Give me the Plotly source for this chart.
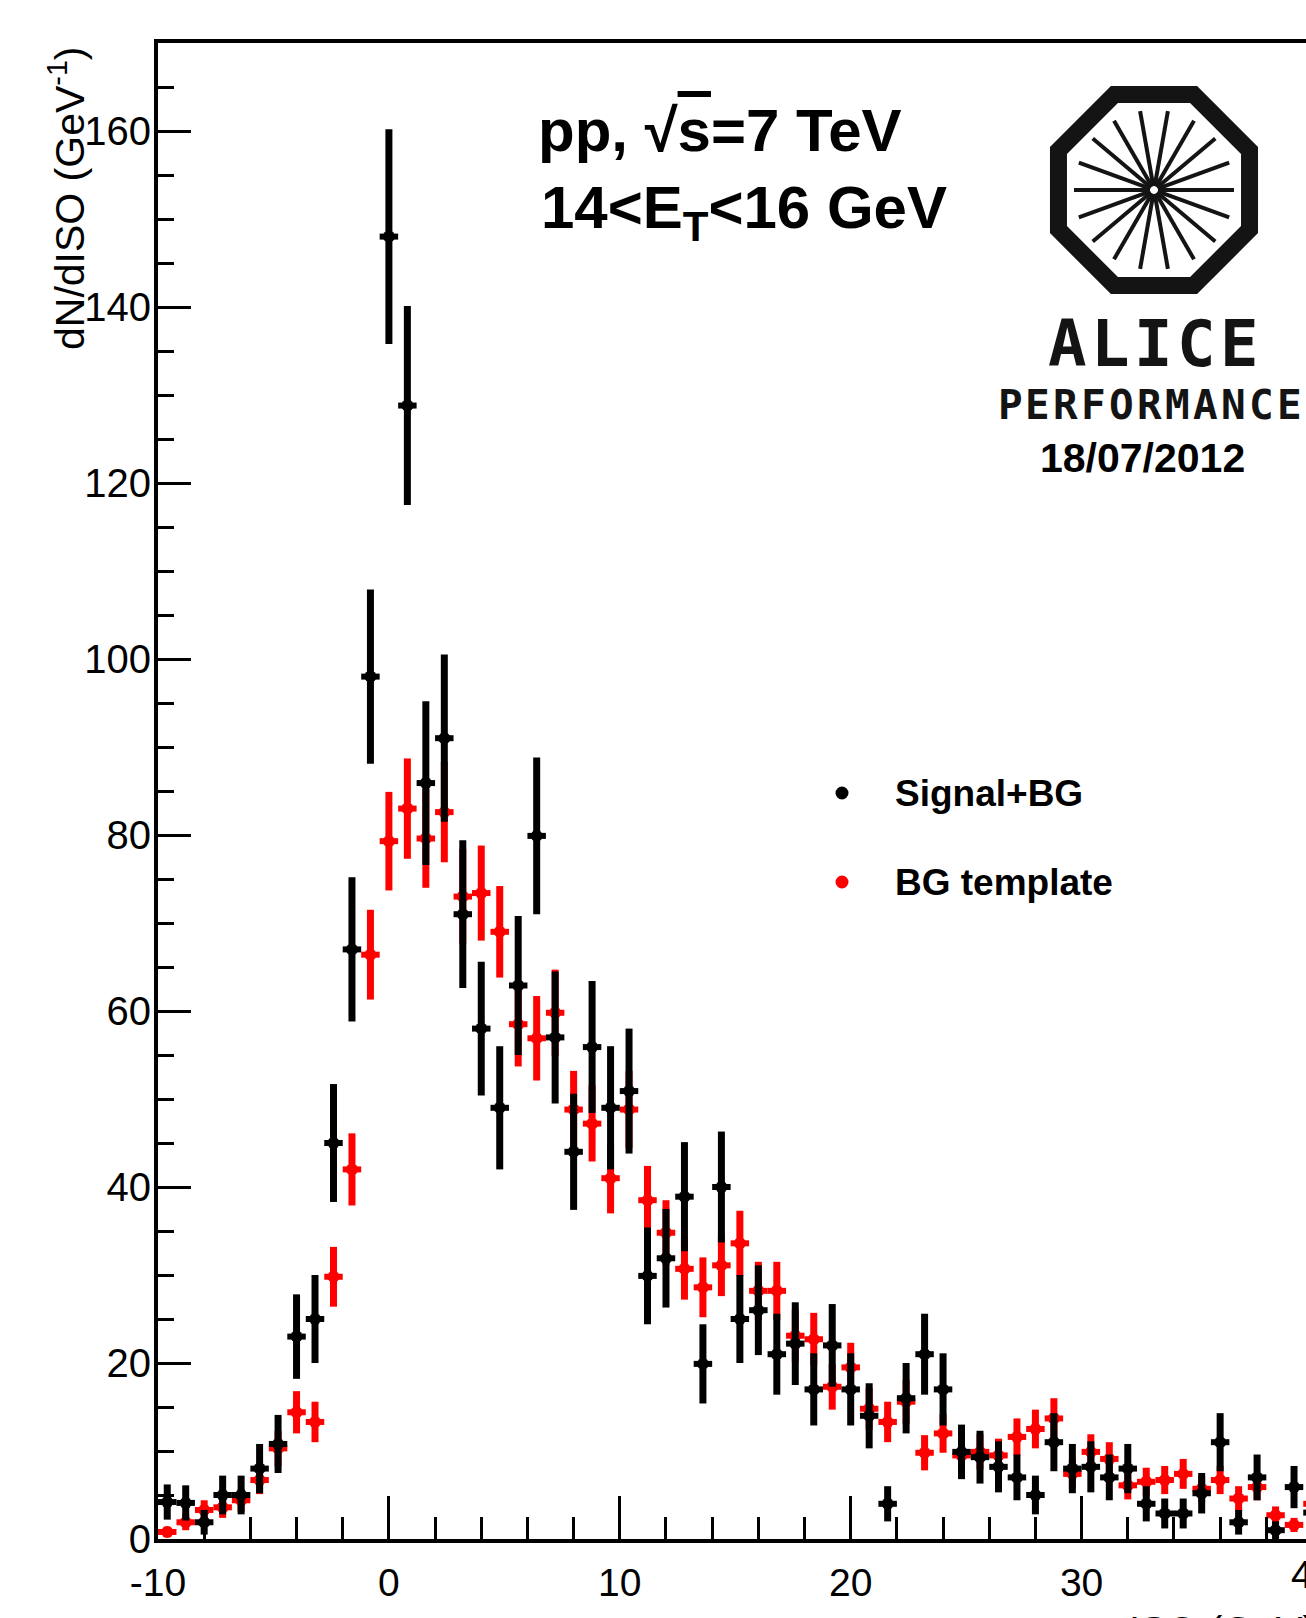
import math
import plotly.graph_objects as go

# ---------------- data ----------------
iso = [-9.6, -8.8, -8.0, -7.2, -6.4, -5.6, -4.8, -4.0, -3.2, -2.4, -1.6, -0.8,
       0.0, 0.8, 1.6, 2.4, 3.2, 4.0, 4.8, 5.6, 6.4, 7.2, 8.0, 8.8, 9.6, 10.4,
       11.2, 12.0, 12.8, 13.6, 14.4, 15.2, 16.0, 16.8, 17.6, 18.4, 19.2, 20.0,
       20.8, 21.6, 22.4, 23.2, 24.0, 24.8, 25.6, 26.4, 27.2, 28.0, 28.8, 29.6,
       30.4, 31.2, 32.0, 32.8, 33.6, 34.4, 35.2, 36.0, 36.8, 37.6, 38.4, 39.2, 40.0]

signal_bg = [4.2, 4.1, 1.9, 5.0, 5.0, 8.0, 10.8, 23.0, 25.0, 45.0, 67.0, 98.0,
             148.0, 128.8, 85.9, 91.0, 71.0, 58.0, 49.0, 62.9, 79.9, 57.0, 44.0, 55.9,
             49.0, 50.9, 29.9, 31.9, 38.9, 19.9, 40.0, 25.0, 26.0, 21.0, 22.2, 17.0,
             22.0, 17.0, 14.0, 4.0, 16.0, 21.0, 17.0, 9.9, 9.3, 8.2, 7.0, 5.0,
             11.0, 8.0, 8.2, 7.0, 8.0, 4.0, 2.9, 2.9, 5.2, 11.0, 1.9, 7.0, 1.0, 5.9, 3.0]

signal_bg_err = [2.0, 2.0, 1.4, 2.2, 2.2, 2.8, 3.3, 4.8, 5.0, 6.7, 8.2, 9.9,
                 12.2, 11.3, 9.3, 9.5, 8.4, 7.6, 7.0, 7.9, 8.9, 7.5, 6.6, 7.5,
                 7.0, 7.1, 5.5, 5.6, 6.2, 4.5, 6.3, 5.0, 5.1, 4.6, 4.7, 4.1,
                 4.7, 4.1, 3.7, 2.0, 4.0, 4.6, 4.1, 3.1, 3.0, 2.9, 2.6, 2.2,
                 3.3, 2.8, 2.9, 2.6, 2.8, 2.0, 1.7, 1.7, 2.3, 3.3, 1.4, 2.6, 1.0, 2.4, 1.7]

bg_template = [0.8, 1.9, 3.3, 3.6, 4.4, 6.7, 10.3, 14.4, 13.3, 29.8, 42.0, 66.4,
               79.3, 83.0, 79.6, 82.6, 73.0, 73.4, 69.0, 58.5, 56.9, 59.8, 48.8, 47.2,
               41.0, 48.8, 38.5, 34.8, 30.7, 28.6, 31.1, 33.6, 28.2, 28.2, 23.1, 22.7,
               17.3, 19.5, 14.8, 13.3, 15.6, 9.8, 12.0, 9.5, 9.9, 9.5, 11.6, 12.5,
               13.7, 7.4, 9.9, 9.1, 6.1, 6.5, 6.7, 7.4, 5.7, 6.7, 4.6, 5.9, 2.7, 1.6, 4.0]

bg_template_err = [0.6, 0.9, 1.1, 1.2, 1.3, 1.6, 2.0, 2.4, 2.3, 3.4, 4.1, 5.1,
                   5.6, 5.7, 5.6, 5.7, 5.4, 5.4, 5.2, 4.8, 4.8, 4.9, 4.4, 4.3,
                   4.0, 4.4, 3.9, 3.7, 3.5, 3.4, 3.5, 3.7, 3.3, 3.3, 3.0, 3.0,
                   2.6, 2.8, 2.4, 2.3, 2.5, 2.0, 2.2, 1.9, 2.0, 1.9, 2.1, 2.2,
                   2.3, 1.7, 2.0, 1.9, 1.6, 1.6, 1.6, 1.7, 1.5, 1.6, 1.4, 1.5, 1.0, 0.8, 1.3]

bin_half_width = 0.4
series_names = ["Signal+BG", "BG template"]
x_tick_vals = [-10, 0, 10, 20, 30]
x_tick_text = ["-10", "0", "10", "20", "30"]

# ---------------- layout geometry ----------------
W, H = 1306, 1618
ML, MT, MB, MR = 158, 43, 79, 0
PW, PH = W - ML - MR, H - MT - MB
X_MIN, X_MAX = -10, -10 + PW / 23.09
Y_MIN, Y_MAX = 0, 170

def xp(px):
    return (px - ML) / PW

def yp(py):
    return (H - MB - py) / PH

FONT = "Liberation Sans, Arial, Helvetica, sans-serif"
MONO = "DejaVu Sans Mono, monospace"

fig = go.Figure()

for yv, ev, col in [(bg_template, bg_template_err, "#ff0000"),
                    (signal_bg, signal_bg_err, "#000000")]:
    fig.add_trace(go.Scatter(
        x=iso, y=yv, mode="markers",
        marker=dict(color=col, size=12, symbol="circle", line=dict(width=0)),
        error_y=dict(type="data", array=ev, color=col, thickness=7, width=0),
        error_x=dict(type="constant", value=bin_half_width, color=col, thickness=6, width=0),
        cliponaxis=False, showlegend=False, hoverinfo="skip"))

shapes = []
annotations = []

# legend (manual)
for i, (name, col) in enumerate(zip(series_names, ["#000000", "#ff0000"])):
    cy = [793, 882][i]
    shapes.append(dict(type="circle", xref="paper", yref="paper",
                       xsizemode="pixel", ysizemode="pixel",
                       xanchor=xp(842), yanchor=yp(cy),
                       x0=-6.5, x1=6.5, y0=-6.5, y1=6.5,
                       fillcolor=col, line=dict(width=0)))
    annotations.append(dict(text=name, xref="paper", yref="paper",
                            x=xp(893), y=yp(cy), xanchor="left", yanchor="middle",
                            showarrow=False,
                            font=dict(family=FONT, size=37, color="black", weight="bold")))

# header text
annotations.append(dict(text="pp, √<span style='text-decoration:overline'>s</span>=7 TeV",
                        xref="paper", yref="paper", x=xp(536), y=yp(150 - 0.905 * 60 - 1),
                        xanchor="left", yanchor="top", showarrow=False,
                        font=dict(family=FONT, size=60, color="black", weight="bold")))
annotations.append(dict(text="14&lt;E<sub>T</sub>&lt;16 GeV",
                        xref="paper", yref="paper", x=xp(539), y=yp(227 - 0.905 * 60 - 1),
                        xanchor="left", yanchor="top", showarrow=False,
                        font=dict(family=FONT, size=60, color="black", weight="bold")))

# ALICE logo
LOGO = "#141414"
cx, cy, R = 1154, 190, 103.4
pts = []
for k in range(8):
    a = math.radians(22.5 + 45 * k)
    pts.append((xp(cx + R * math.cos(a)), yp(cy - R * math.sin(a))))
path = "M " + " L ".join(f"{x:.5f} {y:.5f}" for x, y in pts) + " Z"
shapes.append(dict(type="path", xref="paper", yref="paper", path=path,
                   line=dict(color=LOGO, width=17)))
for k in range(18):
    a = math.radians(20 * k)
    r0, r1 = 4, 80
    shapes.append(dict(type="line", xref="paper", yref="paper",
                       x0=xp(cx + r0 * math.cos(a)), y0=yp(cy - r0 * math.sin(a)),
                       x1=xp(cx + r1 * math.cos(a)), y1=yp(cy - r1 * math.sin(a)),
                       line=dict(color=LOGO, width=4)))

# "ALICE" letters, spaced as in the logo
ALICE_SIZE = 64
for i, ch in enumerate("ALICE"):
    annotations.append(dict(text=ch, xref="paper", yref="paper",
                            x=xp(1153 + (i - 2) * 43), y=yp(366 - 0.346 * ALICE_SIZE),
                            xanchor="center", yanchor="middle", showarrow=False,
                            font=dict(family=MONO, size=ALICE_SIZE, color=LOGO, weight="bold")))
PERF_SIZE = 41
for i, ch in enumerate("PERFORMANCE"):
    annotations.append(dict(text=ch, xref="paper", yref="paper",
                            x=xp(1010 + i * 27.9), y=yp(419 - 0.346 * PERF_SIZE),
                            xanchor="center", yanchor="middle", showarrow=False,
                            font=dict(family=MONO, size=PERF_SIZE, color=LOGO, weight="bold")))
annotations.append(dict(text="18/07/2012", xref="paper", yref="paper",
                        x=xp(1142), y=yp(471 - 0.905 * 41 - 1), xanchor="center", yanchor="top",
                        showarrow=False,
                        font=dict(family=FONT, size=41, color="black", weight="bold")))

# axis titles
annotations.append(dict(text="dN/dISO (GeV<sup>-1</sup>)", xref="paper", yref="paper",
                        x=xp(67), y=yp(198), xanchor="center", yanchor="middle",
                        textangle=-90, showarrow=False,
                        font=dict(family=FONT, size=41, color="black")))
annotations.append(dict(text="ISO (GeV)", xref="paper", yref="paper",
                        x=xp(1127), y=yp(1607), xanchor="left", yanchor="top",
                        showarrow=False, font=dict(family=FONT, size=40, color="black")))
annotations.append(dict(text="40", xref="paper", yref="paper",
                        x=xp(1312), y=yp(1551), xanchor="center", yanchor="top",
                        showarrow=False, font=dict(family=FONT, size=39, color="black")))

fig.update_layout(
    width=W, height=H, autosize=False,
    margin=dict(l=ML, r=MR, t=MT, b=MB, pad=0),
    paper_bgcolor="white", plot_bgcolor="white",
    shapes=shapes, annotations=annotations,
    xaxis=dict(range=[X_MIN, X_MAX], tickmode="array", tickvals=x_tick_vals, ticktext=x_tick_text,
               ticks="inside", ticklen=43, tickwidth=3, tickcolor="black",
               minor=dict(dtick=2, tick0=0, ticks="inside", ticklen=22, tickwidth=3, tickcolor="black"),
               showline=True, linewidth=4, linecolor="black", mirror=True,
               showgrid=False, zeroline=False, ticklabelstandoff=6,
               tickfont=dict(family=FONT, size=39, color="black")),
    yaxis=dict(range=[Y_MIN, Y_MAX], dtick=20, tick0=0,
               ticks="inside", ticklen=33, tickwidth=3, tickcolor="black",
               minor=dict(dtick=5, tick0=0, ticks="inside", ticklen=16, tickwidth=3, tickcolor="black"),
               showline=True, linewidth=4, linecolor="black", mirror=False,
               showgrid=False, zeroline=False, ticklabelstandoff=-5,
               tickfont=dict(family=FONT, size=40, color="black")),
)

fig.write_html("out.html")
